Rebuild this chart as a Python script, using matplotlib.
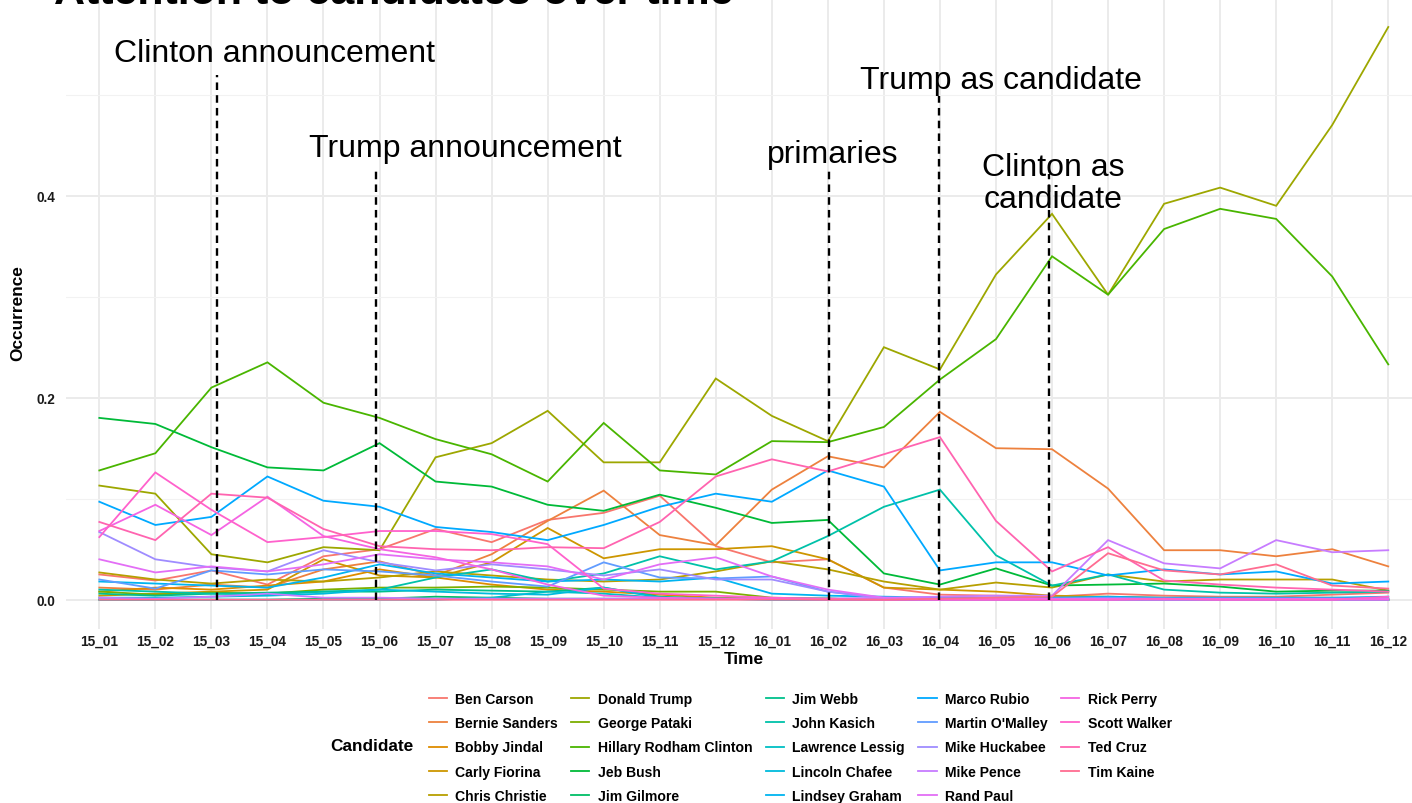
import matplotlib
matplotlib.use("Agg")
import matplotlib.pyplot as plt
import numpy as np

plt.rcParams['font.family'] = ['Liberation Sans', 'DejaVu Sans']

months = ['15_01', '15_02', '15_03', '15_04', '15_05', '15_06', '15_07', '15_08',
          '15_09', '15_10', '15_11', '15_12', '16_01', '16_02', '16_03', '16_04',
          '16_05', '16_06', '16_07', '16_08', '16_09', '16_10', '16_11', '16_12']

candidates = ['Ben Carson', 'Bernie Sanders', 'Bobby Jindal', 'Carly Fiorina', 'Chris Christie',
              'Donald Trump', 'George Pataki', 'Hillary Rodham Clinton', 'Jeb Bush', 'Jim Gilmore',
              'Jim Webb', 'John Kasich', 'Lawrence Lessig', 'Lincoln Chafee', 'Lindsey Graham',
              'Marco Rubio', "Martin O'Malley", 'Mike Huckabee', 'Mike Pence', 'Rand Paul',
              'Rick Perry', 'Scott Walker', 'Ted Cruz', 'Tim Kaine']

# occurrence per month
ben_carson = [0.025, 0.019, 0.029, 0.015, 0.043, 0.050, 0.070, 0.057, 0.079, 0.086, 0.103, 0.053,
              0.037, 0.040, 0.012, 0.005, 0.004, 0.003, 0.006, 0.004, 0.003, 0.003, 0.005, 0.007]
bernie_sanders = [0.012, 0.010, 0.015, 0.012, 0.030, 0.038, 0.024, 0.045, 0.078, 0.108, 0.064, 0.054,
                  0.109, 0.142, 0.131, 0.186, 0.150, 0.149, 0.110, 0.049, 0.049, 0.043, 0.050, 0.033]
bobby_jindal = [0.008, 0.012, 0.010, 0.014, 0.018, 0.030, 0.022, 0.015, 0.010, 0.008, 0.005, 0.002,
                0.001, 0.001, 0, 0, 0, 0, 0, 0, 0, 0, 0, 0]
carly_fiorina = [0.004, 0.006, 0.008, 0.010, 0.040, 0.024, 0.022, 0.037, 0.071, 0.041, 0.050, 0.050,
                 0.053, 0.040, 0.012, 0.010, 0.008, 0.004, 0.003, 0.002, 0.002, 0.002, 0.002, 0.001]
chris_christie = [0.027, 0.020, 0.016, 0.020, 0.018, 0.022, 0.028, 0.024, 0.020, 0.018, 0.020, 0.028,
                  0.038, 0.030, 0.018, 0.010, 0.017, 0.012, 0.025, 0.018, 0.020, 0.020, 0.020, 0.009]
donald_trump = [0.113, 0.105, 0.045, 0.037, 0.052, 0.049, 0.141, 0.155, 0.187, 0.136, 0.136, 0.219,
                0.182, 0.157, 0.250, 0.228, 0.322, 0.382, 0.302, 0.392, 0.408, 0.390, 0.470, 0.567]
george_pataki = [0.008, 0.005, 0.007, 0.006, 0.010, 0.012, 0.012, 0.013, 0.012, 0.010, 0.008, 0.008,
                 0.002, 0.001, 0, 0, 0, 0, 0, 0, 0, 0, 0, 0]
hillary_clinton = [0.128, 0.145, 0.210, 0.235, 0.195, 0.180, 0.159, 0.144, 0.117, 0.175, 0.128, 0.124,
                   0.157, 0.156, 0.171, 0.218, 0.258, 0.340, 0.302, 0.367, 0.387, 0.377, 0.320, 0.233]
jeb_bush = [0.180, 0.174, 0.151, 0.131, 0.128, 0.155, 0.117, 0.112, 0.094, 0.088, 0.104, 0.091,
            0.076, 0.079, 0.026, 0.015, 0.031, 0.014, 0.015, 0.016, 0.013, 0.008, 0.009, 0.009]
jim_gilmore = [0, 0, 0, 0, 0.001, 0.001, 0.003, 0.002, 0.001, 0.001, 0.001, 0.001,
               0.001, 0.001, 0, 0, 0, 0, 0, 0, 0, 0, 0, 0]
jim_webb = [0.006, 0.004, 0.006, 0.007, 0.008, 0.008, 0.010, 0.009, 0.008, 0.012, 0.003, 0.001,
            0.001, 0.001, 0.001, 0, 0, 0, 0, 0, 0, 0, 0, 0]
john_kasich = [0.010, 0.008, 0.006, 0.005, 0.008, 0.010, 0.022, 0.030, 0.018, 0.026, 0.043, 0.030,
               0.038, 0.063, 0.092, 0.109, 0.044, 0.014, 0.025, 0.010, 0.007, 0.006, 0.007, 0.008]
lawrence_lessig = [0, 0, 0, 0, 0, 0, 0, 0.002, 0.008, 0.006, 0.002, 0.001,
                   0, 0, 0, 0, 0, 0, 0, 0, 0, 0, 0, 0]
lincoln_chafee = [0.002, 0.002, 0.003, 0.004, 0.006, 0.010, 0.008, 0.006, 0.005, 0.012, 0.002, 0.001,
                  0, 0, 0, 0, 0, 0, 0, 0, 0, 0, 0, 0]
lindsey_graham = [0.018, 0.016, 0.014, 0.012, 0.022, 0.035, 0.026, 0.022, 0.018, 0.020, 0.018, 0.022,
                  0.006, 0.004, 0.003, 0.002, 0.002, 0.002, 0.003, 0.002, 0.002, 0.002, 0.002, 0.003]
marco_rubio = [0.097, 0.074, 0.082, 0.122, 0.098, 0.092, 0.072, 0.067, 0.059, 0.074, 0.092, 0.105,
               0.097, 0.128, 0.112, 0.029, 0.037, 0.037, 0.024, 0.030, 0.025, 0.028, 0.016, 0.018]
martin_omalley = [0.020, 0.011, 0.029, 0.025, 0.030, 0.028, 0.024, 0.018, 0.013, 0.037, 0.022, 0.021,
                  0.023, 0.008, 0.002, 0.001, 0.001, 0.001, 0.002, 0.001, 0.001, 0.001, 0.001, 0.001]
mike_huckabee = [0.067, 0.040, 0.032, 0.028, 0.049, 0.037, 0.029, 0.035, 0.030, 0.024, 0.030, 0.020,
                 0.020, 0.008, 0.001, 0, 0, 0, 0, 0, 0, 0, 0, 0]
mike_pence = [0.002, 0.001, 0.003, 0.006, 0.002, 0.002, 0.001, 0.001, 0.001, 0.001, 0.001, 0.001,
              0.001, 0.001, 0.002, 0.003, 0.004, 0.004, 0.059, 0.036, 0.031, 0.059, 0.047, 0.049]
rand_paul = [0.040, 0.027, 0.033, 0.028, 0.035, 0.045, 0.040, 0.037, 0.033, 0.020, 0.035, 0.042,
             0.023, 0.010, 0.002, 0.001, 0.001, 0.001, 0.001, 0.001, 0.001, 0.001, 0.001, 0.001]
rick_perry = [0.068, 0.094, 0.064, 0.102, 0.063, 0.050, 0.042, 0.030, 0.015, 0.004, 0.002, 0.001,
              0.001, 0, 0, 0, 0, 0, 0, 0, 0, 0, 0, 0]
scott_walker = [0.062, 0.126, 0.089, 0.057, 0.062, 0.068, 0.068, 0.065, 0.055, 0.011, 0.006, 0.004,
                0.002, 0.001, 0, 0, 0, 0, 0, 0.001, 0, 0, 0, 0.003]
ted_cruz = [0.077, 0.059, 0.105, 0.101, 0.070, 0.053, 0.050, 0.049, 0.052, 0.051, 0.077, 0.122,
            0.139, 0.127, 0.144, 0.161, 0.078, 0.028, 0.052, 0.019, 0.015, 0.012, 0.010, 0.008]
tim_kaine = [0, 0, 0, 0, 0, 0, 0, 0, 0, 0, 0, 0,
             0, 0, 0, 0.001, 0.002, 0.003, 0.046, 0.029, 0.025, 0.035, 0.014, 0.011]

series = [ben_carson, bernie_sanders, bobby_jindal, carly_fiorina, chris_christie,
          donald_trump, george_pataki, hillary_clinton, jeb_bush, jim_gilmore,
          jim_webb, john_kasich, lawrence_lessig, lincoln_chafee, lindsey_graham,
          marco_rubio, martin_omalley, mike_huckabee, mike_pence, rand_paul,
          rick_perry, scott_walker, ted_cruz, tim_kaine]

# events: position on the month axis, top of the dashed line
event_x = [2.095, 4.93, 13.02, 14.98, 16.95]
event_top = [0.519, 0.426, 0.426, 0.499, 0.421]
event_labels = ['Clinton announcement', 'Trump announcement', 'primaries',
                'Trump as candidate', 'Clinton as\ncandidate']
label_x = [3.117, 6.526, 13.09, 16.09, 17.02]
label_y = [0.533, 0.439, 0.433, 0.507, 0.389]


def hue_colour(h, c=100.0, l=65.0):
    # ggplot2 default hue palette: polar Luv -> sRGB
    xn, yn, zn = 95.047, 100.0, 108.883
    un = 4 * xn / (xn + 15 * yn + 3 * zn)
    vn = 9 * yn / (xn + 15 * yn + 3 * zn)
    u = c * np.cos(np.radians(h))
    v = c * np.sin(np.radians(h))
    y = yn * ((l + 16) / 116) ** 3
    up = u / (13 * l) + un
    vp = v / (13 * l) + vn
    x = y * 9 * up / (4 * vp)
    z = y * (12 - 3 * up - 20 * vp) / (4 * vp)
    x, y, z = x / 100, y / 100, z / 100
    rgb = np.array([3.2404542 * x - 1.5371385 * y - 0.4985314 * z,
                    -0.9692660 * x + 1.8760108 * y + 0.0415560 * z,
                    0.0556434 * x - 0.2040259 * y + 1.0572252 * z])
    rgb = np.where(rgb > 0.0031308, 1.055 * np.abs(rgb) ** (1 / 2.4) - 0.055, 12.92 * rgb)
    return tuple(np.clip(rgb, 0, 1))


n = len(candidates)
colours = [hue_colour(15 + 360 * i / n) for i in range(n)]

W, H = 1412, 804
fig = plt.figure(figsize=(W / 100, H / 100), dpi=100)
# panel in pixels: x 65.7..1421.9, y -3.8..629.5 (picture is cropped on top and right)
ax = fig.add_axes([65.7 / W, 1 - 629.5 / H, (1421.9 - 65.7) / W, (629.5 + 3.8) / H])

x = np.arange(len(months))
lines = []
for name, vals, col in zip(candidates, series, colours):
    ln, = ax.plot(x, vals, color=col, lw=1.3, label=name, solid_joinstyle='miter')
    lines.append(ln)

ax.vlines(event_x, 0, event_top, colors='black', linewidth=1.7,
          linestyles=(0, (3.2, 2.2)), zorder=5)
for lx, ly, lab in zip(label_x, label_y, event_labels):
    ax.text(lx, ly, lab, fontsize=23, ha='center', va='baseline',
            multialignment='center', linespacing=1.1, zorder=6)

ax.set_xlim(-0.6, 23.6)
ax.set_ylim(-0.0285, 0.5985)
ax.set_xticks(x)
ax.set_xticklabels(months)
ax.set_yticks([0.0, 0.2, 0.4])
ax.set_yticklabels(['0.0', '0.2', '0.4'])
ax.set_yticks([0.1, 0.3, 0.5], minor=True)
ax.tick_params(axis='both', which='both', length=0)
ax.tick_params(axis='x', pad=4, labelsize=9.8, colors='#1a1a1a')
ax.tick_params(axis='y', pad=7.5, labelsize=9.8, colors='#1a1a1a')
for t in ax.get_xticklabels() + ax.get_yticklabels():
    t.set_fontweight('bold')
ax.grid(which='major', color='#EBEBEB', lw=1.4)
ax.grid(which='minor', axis='y', color='#F2F2F2', lw=0.8)
ax.set_axisbelow(True)
for s in ax.spines.values():
    s.set_visible(False)

ax.set_xlabel('Time', fontsize=12.4, fontweight='bold')
ax.set_ylabel('Occurrence', fontsize=12.4, fontweight='bold')
ax.xaxis.set_label_coords(0.5, (629.5 - 659) / 633.3)
ax.xaxis.label.set_va('center')
ax.yaxis.set_label_coords((18 - 65.7) / 1356.2, 0.5)
ax.yaxis.label.set_va('center')

fig.text(54 / W, 1 - 4 / H, 'Attention to candidates over time', fontsize=31,
         fontweight='bold', ha='left', va='baseline')

fig.legend(lines, candidates, ncol=5, loc='upper left',
           bbox_to_anchor=(428.5 / W, 1 - 693 / H), frameon=False,
           prop=dict(family='Liberation Sans', weight='bold', size=10.1),
           handlelength=1.3, handletextpad=0.6, columnspacing=0.95,
           labelspacing=0.73, borderpad=0, borderaxespad=0)
fig.text(330 / W, 1 - 747 / H, 'Candidate', fontsize=12.4, fontweight='bold',
         ha='left', va='center')

fig.savefig('out.png', dpi=100)
